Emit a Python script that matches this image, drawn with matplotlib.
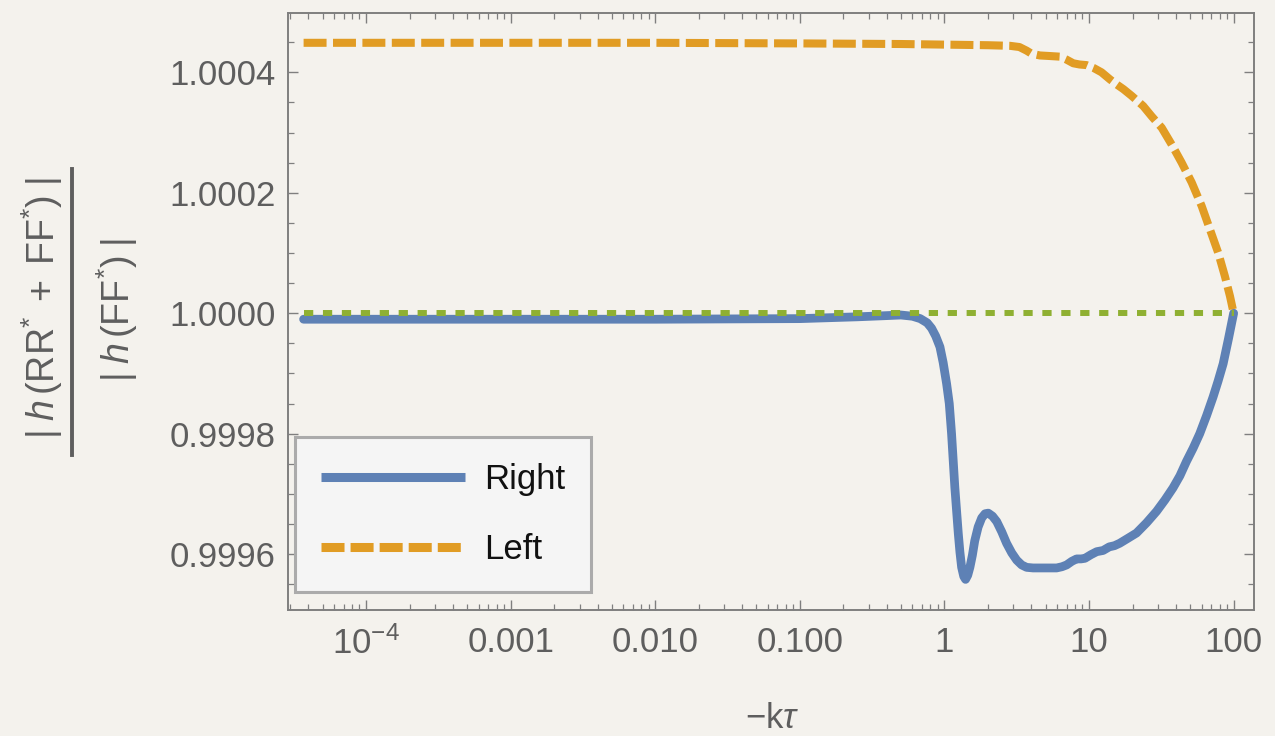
# ratio of |h| for right / left handed modes against -k tau
import numpy as np
import matplotlib
matplotlib.use("Agg")
import matplotlib.pyplot as plt
from matplotlib.ticker import FixedLocator, FixedFormatter, LogLocator, MultipleLocator, NullFormatter
from matplotlib.lines import Line2D

# data
x_right = [3.7e-5, 1e-3, 1e-2, 0.1, 0.25, 0.4, 0.5, 0.6, 0.68, 0.76, 0.815, 0.87, 0.931, 0.98,
           1.035, 1.08, 1.12, 1.15, 1.18, 1.215, 1.247, 1.28, 1.315, 1.36, 1.40, 1.45, 1.50, 1.56,
           1.62, 1.71, 1.81, 1.91, 2.01, 2.15, 2.30, 2.49, 2.69, 2.92, 3.16, 3.42, 3.70, 4.1, 4.57,
           5.2, 5.97, 6.5, 7.0, 7.6, 8.2, 8.8, 9.37, 10.3, 11.3, 12.5, 13.8, 15.0, 16.3, 18.5, 21.3,
           25, 29.3, 33.5, 38.1, 42.5, 47.2, 52.5, 58.3, 65, 72.1, 78, 84.6, 92, 100]
y_right = [0.99999, 0.99999, 0.99999, 0.999991, 0.999994, 0.999996, 0.999997, 0.999995, 0.999991,
           0.999984, 0.999975, 0.999962, 0.999944, 0.999918, 0.999883, 0.99985, 0.9998, 0.999755,
           0.999711, 0.99967, 0.999634, 0.999603, 0.999578, 0.999563, 0.999558, 0.999565, 0.999578,
           0.999598, 0.999622, 0.999645, 0.99966, 0.999667, 0.999668, 0.999663, 0.999654, 0.999637,
           0.999618, 0.999602, 0.99959, 0.999582, 0.999578, 0.999577, 0.999577, 0.999577, 0.999577,
           0.999579, 0.999582, 0.999588, 0.999592, 0.999592, 0.999593, 0.999599, 0.999604, 0.999606,
           0.999612, 0.999614, 0.999618, 0.999626, 0.999635, 0.999652, 0.999671, 0.99969, 0.99971,
           0.99973, 0.999754, 0.999776, 0.9998, 0.99983, 0.999861, 0.999887, 0.999916, 0.999957, 1.0]

x_left = [3.7e-5, 1e-3, 1e-2, 0.1, 0.5, 1.0, 2.0, 2.84, 3.3, 3.7, 4.0, 4.57, 5.4, 6.28, 7.0, 7.78,
          8.6, 9.6, 10.8, 12.2, 14, 15.5, 17.3, 19.7, 21.5, 23.7, 27.1, 31.8, 37.3, 43.7, 51.3,
          60.1, 68.6, 78.3, 87.1, 94.4, 100]
y_left = [1.000449, 1.000449, 1.000449, 1.000448, 1.000447, 1.000446, 1.000445, 1.000444, 1.000442,
          1.000436, 1.000431, 1.000428, 1.000427, 1.000426, 1.000421, 1.000415, 1.000413, 1.000412,
          1.000407, 1.0004, 1.000388, 1.00038, 1.000372, 1.000361, 1.000353, 1.000344, 1.000327,
          1.000308, 1.00028, 1.00025, 1.000217, 1.000178, 1.000139, 1.0001, 1.000061, 1.000028, 1.0]

x_ref = [3.7e-5, 100]
y_ref = [1.0, 1.0]

xticks = [1e-4, 1e-3, 1e-2, 1e-1, 1, 10, 100]
xticklabels = [r'$10^{-4}$', '0.001', '0.010', '0.100', '1', '10', '100']
yticks = [0.9996, 0.9998, 1.0, 1.0002, 1.0004]
yticklabels = ['0.9996', '0.9998', '1.0000', '1.0002', '1.0004']
series_names = ['Right', 'Left']

blue = '#5E81B5'
orange = '#E19C24'
green = '#8FB032'
bg = '#F4F2ED'
grey = '#5E5E5E'

plt.rcParams['font.family'] = ['Liberation Sans', 'DejaVu Sans']
plt.rcParams['mathtext.fontset'] = 'custom'
plt.rcParams['mathtext.rm'] = 'Liberation Sans'
plt.rcParams['mathtext.it'] = 'Liberation Sans:italic'
plt.rcParams['mathtext.bf'] = 'Liberation Sans:bold'

fig = plt.figure(figsize=(12.75, 7.36), dpi=100, facecolor=bg)
ax = fig.add_axes([288.3 / 1275, 1 - 609.5 / 736, (1254 - 288.3) / 1275, (609.5 - 13.3) / 736])
ax.set_facecolor(bg)

ax.plot(x_right, y_right, color=blue, lw=6.3, solid_capstyle='round', solid_joinstyle='round')
ax.plot(x_left, y_left, color=orange, lw=5.8, dashes=(2.85, 0.8))
ax.plot(x_ref, y_ref, color=green, lw=4.3, dashes=(1.55, 1.62))

ax.set_xscale('log')
ax.set_xlim(2.90e-5, 138.3)
ax.set_ylim(0.999508, 1.000498)

ax.xaxis.set_major_locator(FixedLocator(xticks))
ax.xaxis.set_major_formatter(FixedFormatter(xticklabels))
ax.xaxis.set_minor_locator(LogLocator(base=10, subs=np.arange(2, 10), numticks=50))
ax.xaxis.set_minor_formatter(NullFormatter())
ax.yaxis.set_major_locator(FixedLocator(yticks))
ax.yaxis.set_major_formatter(FixedFormatter(yticklabels))
ax.yaxis.set_minor_locator(MultipleLocator(0.00005))

for s in ax.spines.values():
    s.set_color('#7F7F7F')
    s.set_linewidth(1.4)

ax.tick_params(which='both', direction='in', top=True, right=True, color='#7F7F7F',
               labelcolor=grey, labelsize=25)
ax.tick_params(which='major', length=7, width=1.0)
ax.tick_params(which='minor', length=4.3, width=0.9)
ax.tick_params(axis='x', which='major', pad=12)
ax.tick_params(axis='y', which='major', pad=9)

# legend with proxies so the keys come out a bit thicker like the original
handles = [Line2D([], [], color=blue, lw=6.5, solid_capstyle='butt'),
           Line2D([], [], color=orange, lw=6.5, dashes=(2.55, 0.67))]
leg = ax.legend(handles, series_names, loc='lower left',
                bbox_to_anchor=(295 / 1275, 1 - 592 / 736), bbox_transform=fig.transFigure,
                borderaxespad=0, fontsize=25, handlelength=4.15, handletextpad=0.55,
                borderpad=0.75, labelspacing=1.06, fancybox=False, framealpha=1)
leg.get_frame().set_facecolor('#F5F5F5')
leg.get_frame().set_edgecolor('#ABABAB')
leg.get_frame().set_linewidth(2.2)
for t in leg.get_texts():
    t.set_color('#111111')

# axis labels
fig.text(772 / 1275, 1 - 719 / 736, r'$-\mathrm{k}\tau$', color=grey, fontsize=25,
         ha='center', va='center')

num = r'$|\;h\,(\mathrm{RR}^{*}\; + \;\mathrm{FF}^{*})\;|$'
den = r'$|\;h\,(\mathrm{FF}^{*})\;|$'
fig.text(42 / 1275, 1 - 308 / 736, num, color=grey, fontsize=27, rotation=90,
         ha='center', va='center')
fig.text(117 / 1275, 1 - 310 / 736, den, color=grey, fontsize=27, rotation=90,
         ha='center', va='center')
fig.add_artist(Line2D([72 / 1275, 72 / 1275], [1 - 169 / 736, 1 - 455 / 736],
                      transform=fig.transFigure, color=grey, lw=2.8))

plt.savefig('out.png', dpi=100, facecolor=bg)
